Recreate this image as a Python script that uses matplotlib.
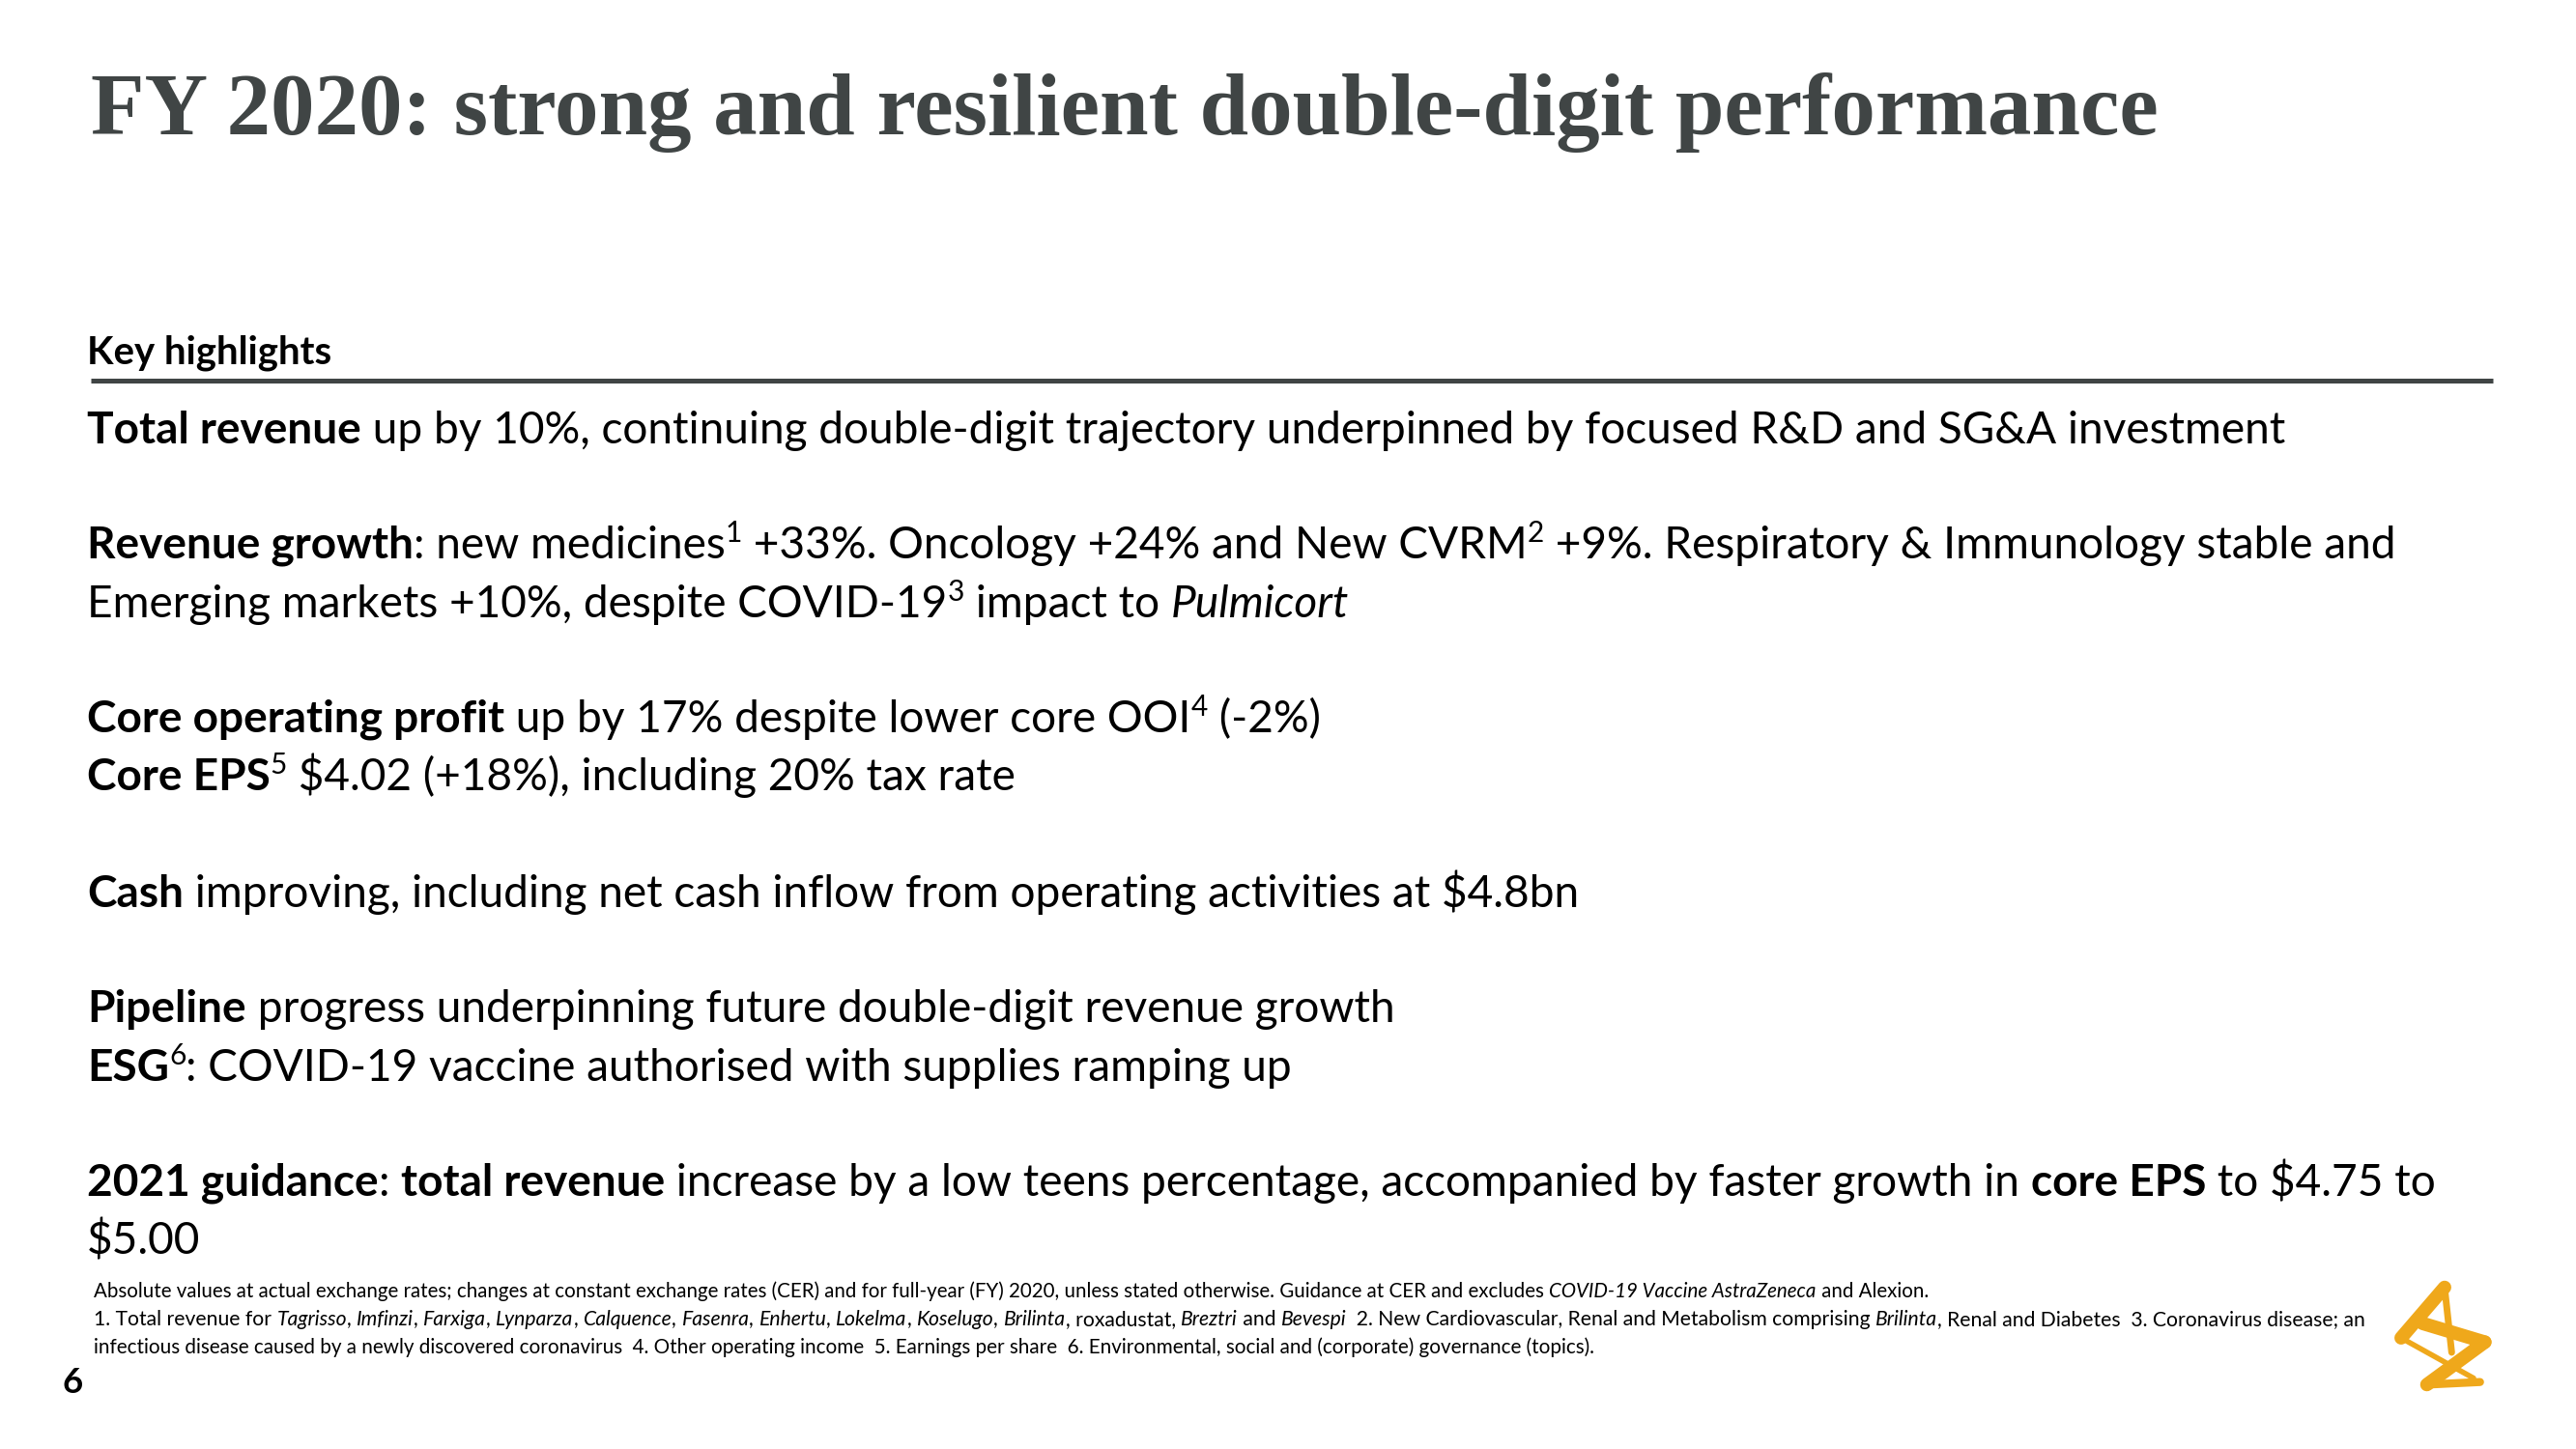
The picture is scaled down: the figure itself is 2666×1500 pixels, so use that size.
import matplotlib
matplotlib.use('Agg')
import matplotlib.pyplot as plt

# ---------------- content ----------------
TITLE = "FY 2020: strong and resilient double-digit performance"
SECTION = "Key highlights"
PAGE = "6"

# body lines: list of (text, style) runs; style: r=regular b=bold i=italic s=superscript
BODY_LINES = [
    [("Total revenue", "b"), (" up by 10%, continuing double-digit trajectory underpinned by focused R&D and SG&A investment", "r")],
    [("Revenue growth", "b"), (": new medicines", "r"), ("1", "s"), (" +33%. Oncology +24% and New CVRM", "r"), ("2", "s"),
     (" +9%. Respiratory & Immunology stable and", "r")],
    [("Emerging markets +10%, despite COVID-19", "r"), ("3", "s"), (" impact to ", "r"), ("Pulmicort", "i")],
    [("Core operating profit", "b"), (" up by 17% despite lower core OOI", "r"), ("4", "s"), (" (-2%)", "r")],
    [("Core EPS", "b"), ("5", "s"), (" $4.02 (+18%), including 20% tax rate", "r")],
    [("Cash", "b"), (" improving, including net cash inflow from operating activities at $4.8bn", "r")],
    [("Pipeline", "b"), (" progress underpinning future double-digit revenue growth", "r")],
    [("ESG", "b"), ("6", "s"), (": COVID-19 vaccine authorised with supplies ramping up", "r")],
    [("2021 guidance", "b"), (": ", "r"), ("total revenue", "b"),
     (" increase by a low teens percentage, accompanied by faster growth in ", "r"), ("core EPS", "b"), (" to $4.75 to", "r")],
    [("$5.00", "r")],
]
BODY_BASELINES = [459, 578, 639, 758, 818, 939, 1058, 1119, 1238, 1299]

FOOT_LINES = [
    [("Absolute values at actual exchange rates; changes at constant exchange rates (CER) and for full-year (FY) 2020, "
      "unless stated otherwise. Guidance at CER and excludes ", "r"), ("COVID-19 Vaccine AstraZeneca", "i"), (" and Alexion.", "r")],
    [("1. Total revenue for ", "r"), ("Tagrisso", "i"), (", ", "r"), ("Imfinzi", "i"), (", ", "r"), ("Farxiga", "i"), (", ", "r"),
     ("Lynparza", "i"), (", ", "r"), ("Calquence", "i"), (", ", "r"), ("Fasenra", "i"), (", ", "r"), ("Enhertu", "i"), (", ", "r"),
     ("Lokelma", "i"), (", ", "r"), ("Koselugo", "i"), (", ", "r"), ("Brilinta", "i"), (", roxadustat, ", "r"), ("Breztri", "i"),
     (" and ", "r"), ("Bevespi", "i"), ("  2. New Cardiovascular, Renal and Metabolism comprising ", "r"), ("Brilinta", "i"),
     (", Renal and Diabetes  3. Coronavirus disease; an", "r")],
    [("infectious disease caused by a newly discovered coronavirus  4. Other operating income  5. Earnings per share  "
      "6. Environmental, social and (corporate) governance (topics).", "r")],
]
FOOT_BASELINES = [1343, 1372, 1401]
FOOT_WIDTHS = [1894, 2338, 1551]

# ---------------- figure ----------------
W, H = 2666, 1500
fig = plt.figure(figsize=(W / 100, H / 100), dpi=100)
fig.patch.set_facecolor('white')
ax = fig.add_axes([0, 0, 1, 1])
ax.set_xlim(0, W)
ax.set_ylim(H, 0)
ax.axis('off')
renderer = fig.canvas.get_renderer()

BODY_FONT = 'Lato'
TITLE_FONT = 'Liberation Serif'
GREY = '#404545'


def props(style, size, family=BODY_FONT, color='black'):
    d = dict(family=family, size=size, color=color, parse_math=False)
    if 'b' in style:
        d['weight'] = 'bold'
    if 'i' in style:
        d['style'] = 'italic'
    return d


def measure(s, style, size, family=BODY_FONT):
    t = ax.text(0, 0, '|' + s + '|', **props(style, size, family))
    w1 = t.get_window_extent(renderer).width
    t.remove()
    t = ax.text(0, 0, '||', **props(style, size, family))
    w2 = t.get_window_extent(renderer).width
    t.remove()
    return w1 - w2


def run_size(style, size):
    return size * 0.65 if 's' in style else size


def line_width(runs, size):
    return sum(measure(tx, st, run_size(st, size)) for tx, st in runs)


def draw_runs(x, y, runs, size, color='black'):
    for tx, st in runs:
        sz = run_size(st, size)
        dy = -size * 0.36 * 100 / 72 if 's' in st else 0
        ax.text(x, y + dy, tx, ha='left', va='baseline', **props(st, sz, color=color))
        x += measure(tx, st, sz)


# title
t_ref = measure(TITLE, 'b', 40, TITLE_FONT)
t_size = 40 * (2137 / t_ref)
ax.text(94, 139, TITLE, ha='left', va='baseline', **props('b', t_size, TITLE_FONT, GREY))

# section header
k_ref = measure(SECTION, 'b', 20)
k_size = 20 * (253 / k_ref)
ax.text(90, 376, SECTION, ha='left', va='baseline', **props('b', k_size))
ax.plot([94, 2580], [394, 394], color=GREY, lw=3.6, solid_capstyle='butt')

# body
b_size = 30 * (2272 / line_width(BODY_LINES[0], 30))
for runs, yb in zip(BODY_LINES, BODY_BASELINES):
    draw_runs(90, yb, runs, b_size)

# footnotes
for runs, yb, wt in zip(FOOT_LINES, FOOT_BASELINES, FOOT_WIDTHS):
    f_size = 12 * (wt / line_width(runs, 12))
    draw_runs(97, yb, runs, f_size)

# page number
ax.text(65, 1442, PAGE, ha='left', va='baseline', **props('b', b_size * 0.8))

# logo (decorative strokes)
GOLD = '#EFA81B'
def L(p):
    return (2420 + p[0] / 3, 1300 + p[1] / 3)
strokes = [
    ([(330, 98), (195, 255)], 10),
    ([(330, 98), (352, 300)], 5),
    ([(195, 255), (420, 380)], 4),
    ([(262, 210), (455, 268)], 10),
    ([(455, 268), (275, 400)], 10),
    ([(275, 400), (440, 392)], 6),
]
for pts, lw in strokes:
    xs, ys = zip(*[L(p) for p in pts])
    ax.plot(xs, ys, color=GOLD, lw=lw, solid_capstyle='round', solid_joinstyle='round')

fig.savefig('out.png', dpi=100, facecolor='white')
